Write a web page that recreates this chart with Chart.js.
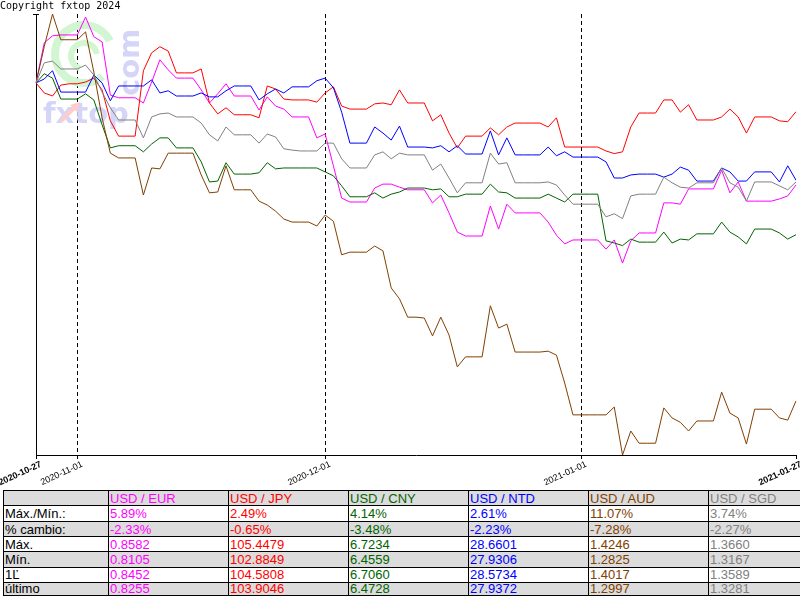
<!DOCTYPE html>
<html><head><meta charset="utf-8">
<script src="https://cdn.jsdelivr.net/npm/chart.js@4.4.1/dist/chart.umd.min.js"></script>
<style>
html,body{margin:0;padding:0;background:#fff;width:800px;height:600px;overflow:hidden;}
#wrap{position:relative;width:800px;height:600px;overflow:hidden;}
#c{position:absolute;left:0;top:0;}
#copy{position:absolute;left:0;top:0;font:10px 'DejaVu Sans Mono',monospace;color:#000;line-height:12px;white-space:nowrap;}
.cell{position:absolute;font:13px 'Liberation Sans',Arial,sans-serif;line-height:13px;white-space:nowrap;}
.hl{position:absolute;height:1px;background:#000;}
.vl{position:absolute;width:1px;background:#000;}
.bg{position:absolute;background:#dcdcdc;}
</style></head>
<body><div id="wrap"><canvas id="c" width="800" height="490"></canvas><div id="copy">Copyright fxtop 2024</div><div id="tbl"></div></div>
<script>
// ---------- DATA ----------
const categories = [
'2020-10-27','2020-10-28','2020-10-29','2020-10-30','2020-10-31',
'2020-11-01','2020-11-02','2020-11-03','2020-11-04','2020-11-05','2020-11-06','2020-11-07','2020-11-08','2020-11-09','2020-11-10',
'2020-11-11','2020-11-12','2020-11-13','2020-11-14','2020-11-15','2020-11-16','2020-11-17','2020-11-18','2020-11-19','2020-11-20',
'2020-11-21','2020-11-22','2020-11-23','2020-11-24','2020-11-25','2020-11-26','2020-11-27','2020-11-28','2020-11-29','2020-11-30',
'2020-12-01','2020-12-02','2020-12-03','2020-12-04','2020-12-05','2020-12-06','2020-12-07','2020-12-08','2020-12-09','2020-12-10',
'2020-12-11','2020-12-12','2020-12-13','2020-12-14','2020-12-15','2020-12-16','2020-12-17','2020-12-18','2020-12-19','2020-12-20',
'2020-12-21','2020-12-22','2020-12-23','2020-12-24','2020-12-25','2020-12-26','2020-12-27','2020-12-28','2020-12-29','2020-12-30','2020-12-31',
'2021-01-01','2021-01-02','2021-01-03','2021-01-04','2021-01-05','2021-01-06','2021-01-07','2021-01-08','2021-01-09','2021-01-10',
'2021-01-11','2021-01-12','2021-01-13','2021-01-14','2021-01-15','2021-01-16','2021-01-17','2021-01-18','2021-01-19','2021-01-20',
'2021-01-21','2021-01-22','2021-01-23','2021-01-24','2021-01-25','2021-01-26','2021-01-27'];

const tickLabels = ['2020-10-27','2020-11-01','2020-12-01','2021-01-01','2021-01-27'];
const boldTickLabels = ['2020-10-27','2021-01-27'];
const monthStarts = ['2020-11-01','2020-12-01','2021-01-01'];

// % change from 2020-10-27
const usdEur = [0,0.92,1.08,1.10,1.10,1.10,1.51,1.06,0.94,-0.28,
-0.34,-0.34,-0.34,-0.46,0.02,0.53,0.30,0.11,0.11,0.11,
-0.16,-0.46,-0.25,-0.02,-0.30,-0.30,-0.30,-0.62,-0.32,-0.53,
-0.60,-0.78,-0.78,-0.78,-1.26,-1.17,-1.90,-2.64,-2.73,-2.73,
-2.73,-2.41,-2.32,-2.32,-2.39,-2.45,-2.45,-2.45,-2.75,-2.57,
-2.98,-3.42,-3.51,-3.51,-3.51,-2.82,-3.35,-2.78,-2.98,-2.98,
-2.98,-2.98,-3.19,-3.49,-3.69,-3.60,-3.60,-3.60,-3.60,-3.81,
-3.60,-4.13,-3.62,-3.44,-3.44,-3.44,-2.75,-2.75,-2.78,-2.43,
-2.43,-2.43,-2.43,-2.00,-2.52,-2.27,-2.71,-2.71,-2.71,-2.71,
-2.66,-2.59,-2.34];
const usdJpy = [0,-0.23,-0.30,-0.05,-0.02,-0.02,0.02,0.11,-0.16,-0.87,
-1.22,-1.22,-1.22,0.28,0.69,0.83,0.73,0.23,0.23,0.23,
0.32,-0.46,-0.71,-0.57,-0.73,-0.73,-0.73,-0.80,-0.07,-0.14,
-0.37,-0.39,-0.39,-0.39,-0.44,-0.23,-0.09,-0.53,-0.60,-0.60,
-0.60,-0.48,-0.46,-0.50,-0.16,-0.46,-0.46,-0.46,-0.87,-0.73,
-1.15,-1.49,-1.22,-1.22,-1.22,-1.03,-1.19,-1.01,-0.92,-0.92,
-0.92,-0.92,-1.01,-0.80,-1.47,-1.47,-1.47,-1.47,-1.47,-1.56,
-1.62,-1.58,-1.01,-0.69,-0.69,-0.69,-0.39,-0.39,-0.67,-0.50,
-0.85,-0.85,-0.85,-0.78,-0.60,-0.78,-1.15,-0.78,-0.78,-0.78,
-0.87,-0.89,-0.66];
const usdCny = [0,0.21,0.11,-0.37,-0.37,-0.37,-0.25,-0.39,-0.96,-1.49,
-1.44,-1.44,-1.44,-1.58,-1.40,-1.26,-1.26,-1.49,-1.49,-1.49,
-1.81,-2.27,-2.25,-1.83,-2.09,-2.09,-2.09,-2.06,-1.83,-1.97,
-1.95,-1.95,-1.95,-1.95,-1.95,-2.04,-2.13,-2.36,-2.61,-2.61,
-2.61,-2.52,-2.64,-2.55,-2.50,-2.41,-2.41,-2.41,-2.45,-2.43,
-2.61,-2.61,-2.55,-2.55,-2.55,-2.32,-2.50,-2.52,-2.64,-2.64,
-2.64,-2.64,-2.55,-2.64,-2.73,-2.55,-2.55,-2.55,-2.55,-3.62,
-3.67,-3.73,-3.58,-3.65,-3.65,-3.65,-3.42,-3.67,-3.58,-3.60,
-3.46,-3.46,-3.46,-3.19,-3.42,-3.53,-3.69,-3.35,-3.35,-3.35,
-3.44,-3.58,-3.48];
const usdNtd = [0,0.09,0.28,-0.21,-0.21,-0.21,-0.21,0.18,0,-0.41,
-0.07,-0.07,-0.07,-0.07,0.07,-0.23,-0.18,-0.30,-0.30,-0.30,
-0.23,-0.32,-0.32,-0.18,-0.07,-0.07,-0.07,-0.39,-0.25,-0.14,
-0.23,-0.09,-0.09,-0.09,0.05,0.11,-0.11,-0.67,-1.38,-1.38,
-1.38,-1.01,-1.15,-1.31,-0.99,-1.47,-1.47,-1.47,-1.49,-1.44,
-1.58,-1.44,-1.63,-1.63,-1.63,-1.10,-1.65,-1.26,-1.65,-1.65,
-1.65,-1.65,-1.47,-1.67,-1.58,-1.70,-1.70,-1.70,-1.70,-1.81,
-2.18,-2.18,-2.11,-2.09,-2.09,-2.09,-2.16,-2.09,-1.93,-2.00,
-2.25,-2.25,-2.25,-1.95,-2.04,-2.25,-2.25,-2.04,-2.04,-2.04,
-2.27,-1.90,-2.23];
const usdAud = [0,0.83,1.58,0.99,0.99,0.99,1.17,0.25,-0.80,-1.61,
-1.72,-1.72,-1.72,-2.57,-1.95,-1.97,-1.61,-1.61,-1.61,-1.61,
-2.11,-2.52,-2.50,-1.90,-2.45,-2.45,-2.45,-2.71,-2.80,-2.94,
-3.12,-3.19,-3.19,-3.19,-3.28,-3.03,-3.17,-3.94,-3.88,-3.88,
-3.88,-3.74,-3.85,-4.70,-4.95,-5.37,-5.37,-5.39,-5.80,-5.37,
-5.78,-6.51,-6.28,-6.28,-6.28,-5.11,-5.62,-5.53,-6.17,-6.17,
-6.17,-6.17,-6.15,-6.24,-6.88,-7.61,-7.61,-7.61,-7.61,-7.61,
-7.43,-8.53,-7.98,-8.26,-8.26,-8.26,-7.45,-7.68,-7.78,-7.98,
-7.75,-7.75,-7.75,-7.09,-7.57,-7.68,-8.28,-7.48,-7.48,-7.48,
-7.68,-7.73,-7.29];
const usdSgd = [0,0.46,0.50,0.32,0.32,0.32,0.41,0.18,-0.21,-0.57,
-0.85,-0.85,-0.85,-1.26,-0.78,-0.71,-0.69,-0.78,-0.78,-0.78,
-0.92,-1.19,-1.33,-1.01,-1.19,-1.19,-1.19,-1.38,-1.17,-1.24,
-1.51,-1.54,-1.56,-1.56,-1.56,-1.38,-1.38,-1.74,-1.95,-1.95,
-1.95,-1.65,-1.58,-1.74,-1.61,-1.65,-1.65,-1.65,-2.00,-1.86,
-2.18,-2.52,-2.29,-2.29,-2.29,-1.61,-1.86,-1.83,-2.29,-2.29,
-2.29,-2.29,-2.27,-2.34,-2.57,-2.78,-2.78,-2.78,-2.78,-3.07,
-3.00,-3.11,-2.59,-2.55,-2.55,-2.55,-2.16,-2.29,-2.39,-2.41,
-2.29,-2.29,-2.29,-1.95,-2.29,-2.39,-2.71,-2.27,-2.27,-2.27,
-2.36,-2.45,-2.27];

const seriesNames = ['USD / EUR','USD / JPY','USD / CNY','USD / NTD','USD / AUD','USD / SGD'];
const seriesColors = ['#ff00ff','#ff0000','#006400','#0000ff','#804000','#808080'];

// table
const rowLabels = ['Máx./Mín.:','% cambio:','Máx.','Mín.','1Ľ','último'];
const maxMinPct = ['5.89%','2.49%','4.14%','2.61%','11.07%','3.74%'];
const changePct = ['-2.33%','-0.65%','-3.48%','-2.23%','-7.28%','-2.27%'];
const maxVals  = ['0.8582','105.4479','6.7234','28.6601','1.4246','1.3660'];
const minVals  = ['0.8105','102.8849','6.4559','27.9306','1.2825','1.3167'];
const firstVals= ['0.8452','104.5808','6.7060','28.5734','1.4017','1.3589'];
const lastVals = ['0.8255','103.9046','6.4728','27.9372','1.2997','1.3281'];

const Y_MIN = -8.53, Y_MAX = 1.58;

// ---------- CHART ----------
const seriesData = [usdEur, usdJpy, usdCny, usdNtd, usdAud, usdSgd];
const datasets = seriesData.map((d, i) => ({
  label: seriesNames[i], data: d, borderColor: seriesColors[i], borderWidth: 1,
  pointRadius: 0, tension: 0, fill: false, order: 5 - i
}));

const watermark = {
  id: 'watermark',
  beforeDatasetsDraw(chart) {
    const ctx = chart.ctx;
    ctx.save();
    ctx.strokeStyle = '#d2f5d2';
    ctx.lineWidth = 8;
    ctx.beginPath(); ctx.arc(84, 54, 29, 0.28 * Math.PI, 1.85 * Math.PI); ctx.stroke();
    ctx.lineWidth = 6;
    ctx.beginPath(); ctx.arc(84, 56, 13, 0.6 * Math.PI, 1.95 * Math.PI); ctx.stroke();
    ctx.fillStyle = '#d4d5f7';
    ctx.font = 'bold 29px "DejaVu Sans"';
    ctx.textBaseline = 'alphabetic';
    ctx.fillText('fxtop', 43, 123);
    ctx.save();
    ctx.translate(139, 96); ctx.rotate(-Math.PI / 2); ctx.fillText('com', 0, 0);
    ctx.restore();
    ctx.strokeStyle = '#ffcccc'; ctx.lineWidth = 4;
    ctx.beginPath(); ctx.moveTo(61, 121); ctx.lineTo(76, 106); ctx.stroke();
    ctx.fillStyle = '#ffcccc';
    ctx.beginPath(); ctx.moveTo(80, 102); ctx.lineTo(70, 105); ctx.lineTo(77, 112); ctx.closePath(); ctx.fill();
    ctx.restore();
  },
  afterDraw(chart) {
    const ctx = chart.ctx, a = chart.chartArea;
    ctx.save(); ctx.strokeStyle = '#000'; ctx.lineWidth = 1;
    ctx.beginPath(); ctx.moveTo(a.left - 3, a.top + 0.5); ctx.lineTo(a.left + 3, a.top + 0.5); ctx.stroke();
    ctx.restore();
  }
};

new Chart(document.getElementById('c'), {
  type: 'line',
  data: { labels: categories, datasets },
  plugins: [watermark],
  options: {
    responsive: false, animation: false, devicePixelRatio: 1,
    layout: { padding: { left: 0, right: 4, top: 14, bottom: 0 } },
    plugins: { legend: { display: false }, tooltip: { enabled: false } },
    scales: {
      x: {
        offset: false,
        grid: {
          display: true, drawOnChartArea: true, drawTicks: true, tickLength: 4,
          lineWidth: 1,
          color: (c) => monthStarts.includes(categories[c.index]) ? '#000' : 'rgba(0,0,0,0)',
          tickColor: (c) => tickLabels.includes(categories[c.index]) ? '#000' : 'rgba(0,0,0,0)'
        },
        border: { display: true, color: '#000', width: 1, dash: [4, 3] },
        ticks: {
          autoSkip: false, maxRotation: 25, minRotation: 25, padding: 0, labelOffset: 5,
          color: '#000',
          font: (c) => ({ family: "'Liberation Sans', Arial, sans-serif", size: 9,
                          weight: boldTickLabels.includes(categories[c.index]) ? 'bold' : 'normal' }),
          callback: (v, i) => tickLabels.includes(categories[i]) ? categories[i] : ''
        },
        afterFit: (s) => { s.height = 35; s.paddingLeft = 0; s.paddingRight = 0; }
      },
      y: {
        min: Y_MIN, max: Y_MAX,
        grid: { display: false },
        border: { display: true, color: '#000', width: 1 },
        ticks: { display: false },
        afterFit: (s) => { s.width = 36; }
      }
    }
  }
});

// ---------- TABLE ----------
(function () {
  const tbl = document.getElementById('tbl');
  const colX = [3, 108, 228, 348, 468, 588, 708, 828];
  const lineY = [490, 505, 521, 536, 551, 567, 582, 595];
  const textTop = [492, 507, 523, 538, 553, 568, 582];
  const rows = [['', ...seriesNames],
    [rowLabels[0], ...maxMinPct], [rowLabels[1], ...changePct], [rowLabels[2], ...maxVals],
    [rowLabels[3], ...minVals], [rowLabels[4], ...firstVals], [rowLabels[5], ...lastVals]];
  let html = '';
  for (let r = 0; r < 7; r++) {
    if (r % 2 === 0) html += `<div class="bg" style="left:3px;top:${lineY[r]}px;width:830px;height:${lineY[r+1]-lineY[r]}px"></div>`;
  }
  for (let r = 0; r < 7; r++) {
    for (let c = 0; c < 7; c++) {
      const col = c === 0 ? '#000' : seriesColors[c - 1];
      html += `<div class="cell" style="left:${colX[c]+2}px;top:${textTop[r]}px;color:${col}">${rows[r][c]}</div>`;
    }
  }
  lineY.forEach(y => { html += `<div class="hl" style="left:3px;top:${y}px;width:830px"></div>`; });
  colX.forEach(x => { html += `<div class="vl" style="left:${x}px;top:490px;height:106px"></div>`; });
  tbl.innerHTML = html;
})();
</script>
</body></html>
